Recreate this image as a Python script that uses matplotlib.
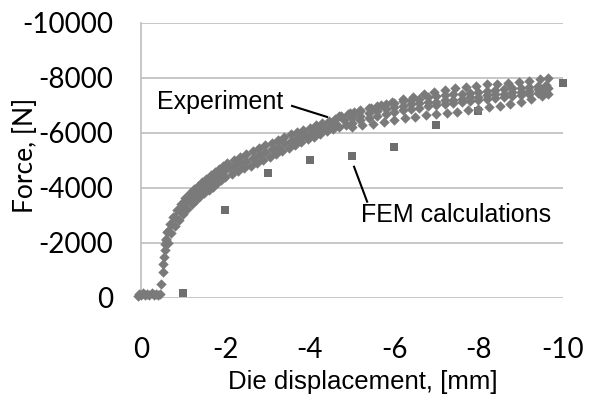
import matplotlib.pyplot as plt

# Experiment - flat start and steep rise
exp_start_x = [0.08, 0.04, 0.0, -0.05, -0.1, -0.15, -0.2, -0.25, -0.3, -0.35, -0.4, -0.45,
               -0.48, -0.51, -0.53, -0.55, -0.57, -0.58, -0.59]
exp_start_y = [-80, -150, -100, -170, -90, -160, -110, -170, -100, -150, -90, -160,
               -520, -950, -1250, -1500, -1750, -1950, -2150]

# Experiment - middle of the band
exp_mid_x = [-0.6, -0.65, -0.7, -0.8, -0.9, -1.0, -1.1, -1.2, -1.3, -1.4, -1.5, -1.6, -1.7, -1.8,
             -1.9, -2.0, -2.1, -2.2, -2.35, -2.5, -2.65, -2.8, -2.95, -3.1, -3.25, -3.4, -3.55,
             -3.7, -3.85, -4.0, -4.15, -4.3, -4.45, -4.6, -4.8, -5.0, -5.2, -5.4, -5.6, -5.8,
             -6.0, -6.2, -6.4, -6.6, -6.8, -7.0, -7.2, -7.4, -7.6, -7.8, -8.0, -8.2, -8.4,
             -8.6, -8.8, -9.0, -9.2, -9.4, -9.55, -9.65]
exp_mid_y = [-2100, -2450, -2700, -2950, -3200, -3400, -3550, -3700, -3820, -3950, -4080, -4200,
             -4320, -4430, -4540, -4640, -4720, -4800, -4900, -4990, -5100, -5200, -5300, -5400,
             -5500, -5620, -5720, -5830, -5920, -6000, -6100, -6200, -6290, -6370, -6460, -6550,
             -6630, -6710, -6790, -6870, -6940, -6990, -7040, -7080, -7110, -7140, -7180, -7210,
             -7250, -7290, -7320, -7360, -7400, -7430, -7470, -7500, -7540, -7580, -7610, -7640]

# Experiment - upper edge of the band
exp_top_x = [-0.62, -0.68, -0.75, -0.85, -0.95, -1.05, -1.15, -1.25, -1.35, -1.45, -1.55, -1.65,
             -1.75, -1.85, -1.95, -2.05, -2.2, -2.35, -2.5, -2.65, -2.8, -2.95, -3.1, -3.25,
             -3.4, -3.55, -3.7, -3.85, -4.0, -4.15, -4.3, -4.45, -4.6, -4.75, -4.9, -5.05,
             -5.2, -5.4, -5.6, -5.8, -6.0, -6.2, -6.4, -6.6, -6.8, -7.0, -7.2, -7.4, -7.6,
             -7.8, -8.0, -8.2, -8.4, -8.6, -8.8, -9.0, -9.2, -9.4, -9.6]
exp_top_y = [-2400, -2700, -2950, -3200, -3430, -3650, -3800, -3950, -4080, -4210, -4340, -4460,
             -4580, -4700, -4800, -4900, -5000, -5130, -5230, -5340, -5440, -5550, -5650, -5750,
             -5850, -5950, -6030, -6110, -6190, -6270, -6350, -6430, -6510, -6600, -6680, -6750,
             -6820, -6900, -6970, -7040, -7100, -7160, -7210, -7250, -7290, -7330, -7370, -7400,
             -7430, -7460, -7500, -7530, -7560, -7590, -7620, -7650, -7680, -7720, -7750]

# Experiment - lower edge of the band
exp_bot_x = [-0.64, -0.72, -0.8, -0.9, -1.0, -1.1, -1.2, -1.3, -1.4, -1.5, -1.6, -1.7, -1.8,
             -1.9, -2.0, -2.15, -2.3, -2.45, -2.6, -2.75, -2.9, -3.05, -3.2, -3.35, -3.5, -3.65,
             -3.8, -3.95, -4.1, -4.25, -4.4, -4.55, -4.7, -4.85, -5.0, -5.2, -5.4, -5.6, -5.8,
             -6.0, -6.2, -6.4, -6.6, -6.8, -7.0, -7.2, -7.4, -7.6, -7.8, -8.0, -8.2, -8.4,
             -8.6, -8.8, -9.0, -9.2, -9.4, -9.6]
exp_bot_y = [-2000, -2350, -2600, -2850, -3050, -3250, -3400, -3550, -3690, -3810, -3930, -4050,
             -4170, -4280, -4380, -4510, -4610, -4710, -4810, -4910, -5020, -5120, -5230, -5330,
             -5440, -5550, -5660, -5760, -5860, -5970, -6060, -6150, -6230, -6300, -6370, -6460,
             -6540, -6620, -6700, -6770, -6830, -6880, -6920, -6960, -7000, -7040, -7070, -7110,
             -7150, -7180, -7220, -7260, -7300, -7340, -7380, -7420, -7460, -7500]

# Experiment - separate upper and lower loops
exp_hi_x = [-4.7, -4.95, -5.2, -5.45, -5.7, -5.95, -6.2, -6.45, -6.7, -6.95, -7.2, -7.45, -7.7,
            -7.95, -8.2, -8.45, -8.7, -8.95, -9.2, -9.45, -9.65]
exp_hi_y = [-6620, -6720, -6800, -6920, -7030, -7140, -7230, -7320, -7410, -7490, -7560, -7630,
            -7680, -7720, -7760, -7790, -7810, -7840, -7900, -7950, -7990]
exp_lo_x = [-5.0, -5.25, -5.5, -5.75, -6.0, -6.25, -6.5, -6.75, -7.0, -7.25, -7.5, -7.75, -8.0,
            -8.25, -8.5, -8.75, -9.0, -9.25, -9.5, -9.65]
exp_lo_y = [-6200, -6280, -6340, -6400, -6460, -6530, -6590, -6640, -6700, -6740, -6770, -6820,
            -6870, -6930, -6990, -7060, -7130, -7220, -7330, -7420]

# FEM calculations
fem_x = [-1, -2, -3, -4, -5, -6, -7, -8, -10]
fem_y = [-180, -3180, -4560, -5000, -5150, -5470, -6280, -6790, -7800]

x_ticks = [0, -2, -4, -6, -8, -10]
y_ticks = [0, -2000, -4000, -6000, -8000, -10000]

fig = plt.figure(figsize=(5.95, 4.01), dpi=100)
ax = fig.add_axes([0.237, 0.257, 0.709, 0.686])

exp_x = exp_start_x + exp_mid_x + exp_top_x + exp_bot_x + exp_hi_x + exp_lo_x
exp_y = exp_start_y + exp_mid_y + exp_top_y + exp_bot_y + exp_hi_y + exp_lo_y

ax.scatter(fem_x, fem_y, marker='s', s=32, color='#6e6e6e', linewidths=0, zorder=2, clip_on=False)
ax.scatter(exp_x, exp_y, marker='D', s=28, color='#7a7a7a', linewidths=0, zorder=3, clip_on=False)

ax.set_xlim(0, -10)
ax.set_ylim(0, -10000)
ax.set_xticks(x_ticks)
ax.set_yticks(y_ticks)
ax.set_xticklabels([str(t) for t in x_ticks], fontsize=20, family='Lato')
ax.set_yticklabels([str(t) for t in y_ticks], fontsize=20, family='Lato')
ax.tick_params(axis='both', length=0)
ax.tick_params(axis='y', pad=20)
ax.tick_params(axis='x', pad=28)

ax.grid(axis='y', color='#bdbdbd', linewidth=1.2)
ax.set_axisbelow(True)
for s in ['top', 'right', 'bottom']:
    ax.spines[s].set_visible(False)
ax.spines['left'].set_color('#bdbdbd')
ax.spines['left'].set_linewidth(1.2)

ax.set_ylabel('Force, [N]', fontsize=19, family='Lato')
ax.yaxis.set_label_coords(-0.244, 0.52)
ax.set_xlabel('Die displacement, [mm]', fontsize=18.5, family='Liberation Sans')
ax.xaxis.set_label_coords(0.526, -0.262)

# callouts
ax.text(-3.36, -7130, 'Experiment', fontsize=18, family='Liberation Sans', ha='right', va='center')
ax.plot([-3.58, -4.41], [-6980, -6580], color='black', lw=1.5, zorder=4)
ax.text(-5.21, -3020, 'FEM calculations', fontsize=18, family='Liberation Sans', ha='left', va='center')
ax.plot([-5.05, -5.36], [-4770, -3500], color='black', lw=1.5, zorder=4)

fig.savefig('out.png', dpi=100)
